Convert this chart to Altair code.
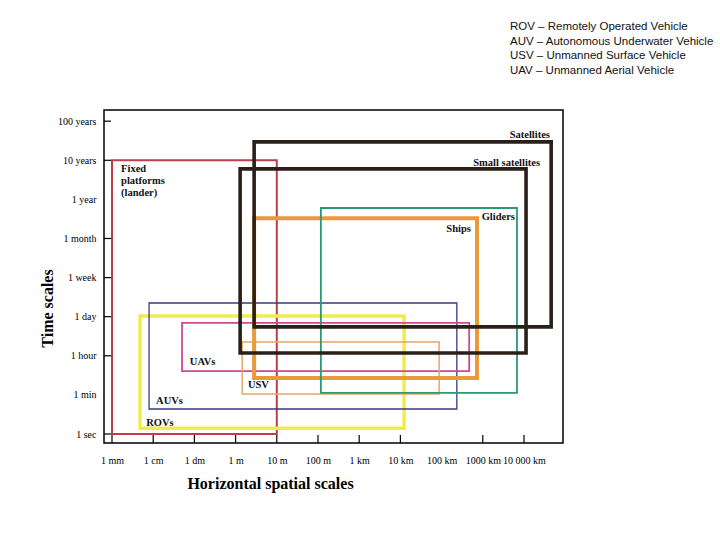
import altair as alt
import pandas as pd

# ---- data (x in log10 metres, y as time-scale index) ----
platforms = ["Fixed platforms", "ROVs", "AUVs", "UAVs", "USV", "Ships", "Gliders",
             "Small satellites", "Satellites"]
x_min = [-3.0, -2.32, -2.10, -1.30, 0.16, 0.45, 2.07, 0.11, 0.45]
x_max = [1.0, 4.09, 5.37, 5.67, 4.94, 5.86, 6.83, 7.05, 7.66]
t_min = [0.0, 0.15, 0.64, 1.61, 1.02, 1.43, 1.05, 2.07, 2.74]
t_max = [7.0, 3.02, 3.35, 2.84, 2.35, 5.52, 5.78, 6.78, 7.47]

x_tick_labels = ["1 mm", "1 cm", "1 dm", "1 m", "10 m", "100 m", "1 km", "10 km",
                 "100 km", "1000 km", "10 000 km"]
x_tick_values = [-3, -2, -1, 0, 1, 2, 3, 4, 5, 6, 7]
x_tick_marks = [-3, -2, -1, 0, 1, 2, 3, 4, 6, 7]
y_tick_labels = ["1 sec", "1 min", "1 hour", "1 day", "1 week", "1 month", "1 year",
                 "10 years", "100 years"]
y_tick_values = [0, 1, 2, 3, 4, 5, 6, 7, 8]
y_tick_marks = [0, 2, 3, 4, 5, 7, 8]

# box labels (anchored in data units)
left_labels = ["ROVs", "AUVs", "UAVs", "USV"]
left_lab_x = [-2.17, -1.93, -1.11, 0.30]
left_lab_y = [0.28, 0.84, 1.84, 1.25]
right_labels = ["Ships", "Gliders", "Small satellites", "Satellites"]
right_lab_x = [5.71, 6.78, 7.39, 7.63]
right_lab_y = [5.24, 5.55, 6.93, 7.65]
fixed_label = ["Fixed\nplatforms\n(lander)"]
fixed_lab_x = [-2.78]
fixed_lab_y = [6.90]

legend_lines = ["ROV \u2013 Remotely Operated Vehicle",
                "AUV \u2013 Autonomous Underwater Vehicle",
                "USV \u2013 Unmanned Surface Vehicle",
                "UAV \u2013 Unmanned Aerial Vehicle"]

# ---- styles ----
colors = ["#bd3f47", "#f3ea4e", "#3a3a82", "#d04890", "#e2a86a", "#e99a3a",
          "#2a9a70", "#2a2019", "#2a2019"]
widths = [2.0, 3.5, 1.3, 1.8, 1.5, 4.0, 1.8, 3.6, 3.6]

SERIF = "Liberation Serif"

df = pd.DataFrame(dict(platform=platforms, x0=x_min, x1=x_max, y0=t_min, y1=t_max))
df["col"] = colors
df["sw"] = widths
xscale = alt.Scale(domain=[-3.194, 7.947], nice=False, zero=False)
yscale = alt.Scale(domain=[-0.23, 8.286], nice=False, zero=False)

x_expr = "[" + ",".join(f"'{s}'" for s in x_tick_labels) + "][datum.value + 3]"
y_expr = "[" + ",".join(f"'{s}'" for s in y_tick_labels) + "][datum.value]"

xaxis = alt.Axis(values=x_tick_values, labelExpr=x_expr, ticks=False, tickSize=0,
                 domain=False, grid=False, labelFont=SERIF, labelFontSize=10,
                 labelColor="black", labelPadding=12, labelFlush=False,
                 title="Horizontal spatial scales", titleFont=SERIF, titleFontSize=16,
                 titleFontWeight="bold", titleColor="black", titleX=166, titleY=40,
                 titleBaseline="middle", titleAlign="center")
yaxis = alt.Axis(values=y_tick_values, labelExpr=y_expr, ticks=False, tickSize=0,
                 domain=False, grid=False, labelFont=SERIF, labelFontSize=10,
                 labelColor="black", labelPadding=8, labelFlush=False,
                 title="Time scales", titleFont=SERIF, titleFontSize=16,
                 titleFontWeight="bold", titleColor="black", titleX=-57, titleY=198,
                 titleAngle=270, titleBaseline="middle", titleAlign="center")

rects = alt.Chart(df).mark_rect(filled=False).encode(
    x=alt.X("x0:Q", scale=xscale, axis=xaxis),
    x2="x1:Q",
    y=alt.Y("y0:Q", scale=yscale, axis=yaxis),
    y2="y1:Q",
    stroke=alt.Stroke("col:N", scale=None),
    strokeWidth=alt.StrokeWidth("sw:Q", scale=None),
)

xticks = alt.Chart(pd.DataFrame({"v": x_tick_marks})).mark_rule(color="black", strokeWidth=1.2).encode(
    x=alt.X("v:Q", scale=xscale), y=alt.value(333), y2=alt.value(325))
yticks = alt.Chart(pd.DataFrame({"v": y_tick_marks})).mark_rule(color="black", strokeWidth=1.2).encode(
    y=alt.Y("v:Q", scale=yscale), x=alt.value(0), x2=alt.value(7))

lab_font = dict(font=SERIF, fontSize=10.5, fontWeight="bold", color="#111111")
left_txt = alt.Chart(pd.DataFrame(dict(t=left_labels, x=left_lab_x, y=left_lab_y))).mark_text(
    align="left", baseline="middle", **lab_font).encode(
    x=alt.X("x:Q", scale=xscale), y=alt.Y("y:Q", scale=yscale), text="t:N")
right_txt = alt.Chart(pd.DataFrame(dict(t=right_labels, x=right_lab_x, y=right_lab_y))).mark_text(
    align="right", baseline="middle", **lab_font).encode(
    x=alt.X("x:Q", scale=xscale), y=alt.Y("y:Q", scale=yscale), text="t:N")
fixed_txt = alt.Chart(pd.DataFrame(dict(t=fixed_label, x=fixed_lab_x, y=fixed_lab_y))).mark_text(
    align="left", baseline="top", lineBreak="\n", lineHeight=12, **lab_font).encode(
    x=alt.X("x:Q", scale=xscale), y=alt.Y("y:Q", scale=yscale), text="t:N")

legend_txt = alt.Chart(pd.DataFrame({"t": ["\n".join(legend_lines)]})).mark_text(
    align="left", baseline="top", lineBreak="\n", lineHeight=14.5,
    font="Liberation Sans", fontSize=11.5, color="#111111").encode(
    x=alt.value(406), y=alt.value(-89), text="t:N")

chart = alt.layer(rects, xticks, yticks, left_txt, right_txt, fixed_txt, legend_txt).properties(
    width=459, height=333,
    autosize=alt.AutoSizeParams(type="none"),
    padding={"left": 104, "top": 110, "right": 157, "bottom": 97},
    background="white",
).configure_view(stroke="black", strokeWidth=1.5)

chart.save("out.html", embed_options={"renderer": "svg", "actions": False})
